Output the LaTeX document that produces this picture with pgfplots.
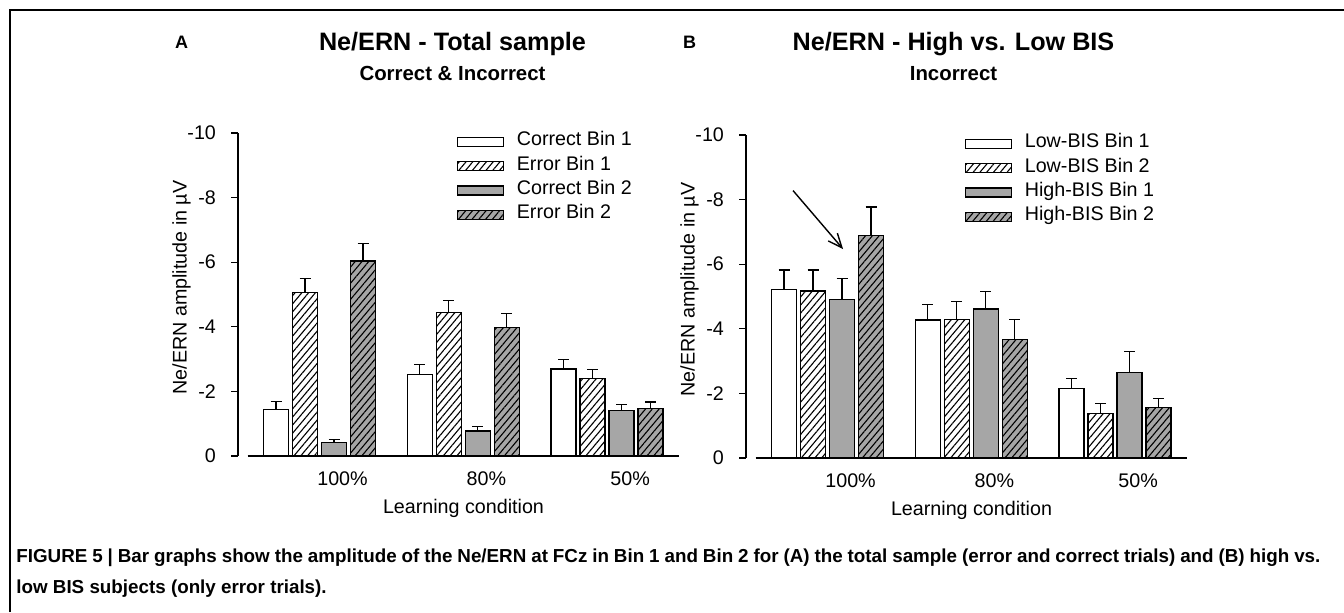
\documentclass[border=0pt]{standalone}
\usepackage{fontspec}
\setmainfont{Liberation Sans}
\usepackage{pgfplots}
\usepackage{pgfplotstable}
\pgfplotsset{compat=1.18}
\usetikzlibrary{patterns.meta,arrows.meta}

\definecolor{bargray}{gray}{0.65}
\newcommand{\lblfont}{\fontsize{9.85pt}{11pt}\selectfont}

% panel A: total sample (values in microvolt, error = upper SE)
\pgfplotstableread{
x  cb1   cb1e  eb1   eb1e  cb2   cb2e  eb2   eb2e
0  -1.45 0.23  -5.07 0.43  -0.41 0.10  -6.04 0.54
1  -2.52 0.31  -4.45 0.37  -0.77 0.14  -3.97 0.44
2  -2.69 0.29  -2.40 0.27  -1.41 0.18  -1.47 0.20
}\totaldata

% panel B: high vs low BIS, incorrect trials
\pgfplotstableread{
x  lb1   lb1e  lb2   lb2e  hb1   hb1e  hb2   hb2e
0  -5.21 0.61  -5.17 0.65  -4.90 0.66  -6.89 0.88
1  -4.27 0.48  -4.29 0.56  -4.61 0.54  -3.66 0.63
2  -2.15 0.31  -1.37 0.31  -2.64 0.66  -1.57 0.27
}\bisdata

\pgfplotsset{
  hatch/.style={postaction={pattern={Lines[angle=50,distance=2.6pt,line width=0.55pt]}}},
  errb/.style={error bars/.cd, y dir=minus, y explicit,
    error bar style={black, line width=0.6pt},
    error mark=-,
    error mark options={black, rotate=90, mark size=2.75pt, line width=0.6pt}},
  ernaxis/.style={
    scale only axis, width=220.5pt, height=161.5pt, anchor=center,
    ybar=2pt, bar width=12.5pt,
    xmin=-0.567, xmax=2.5, ymin=-10, ymax=0, y dir=reverse,
    axis y line*=left, axis x line*=bottom,
    x axis line style={draw=none},
    y axis line style={line width=0.65pt},
    xtick={0,1,2}, xticklabels={100\%,80\%,50\%},
    major x tick style={draw=none},
    xticklabel style={xshift=11.5pt, yshift=-1pt},
    ytick={-10,-8,-6,-4,-2,0}, yticklabels={-10,-8,-6,-4,-2,0},
    yticklabel style={xshift=-4pt},
    tick align=outside, major tick length=3.5pt,
    major y tick style={black, line width=0.65pt},
    tick label style={font=\lblfont},
    clip=false,
    legend style={draw=none, fill=none, inner sep=0pt, row sep=0pt,
      font=\lblfont, anchor=north west, at={(axis cs:0.95,-10.12)},
      nodes={inner sep=0pt, text height=8.1pt, text depth=4.1pt}},
    legend cell align=left,
    legend image code/.code={\draw[##1] (0pt,-2.25pt) rectangle (23pt,2.25pt);
      \node[draw=none, fill=none, inner sep=0pt, minimum size=0pt] at (29.5pt,0pt) {};},
  },
}

\begin{document}
\begin{tikzpicture}
\useasboundingbox (0pt,0pt) rectangle (672pt,-306pt);

\begin{axis}[ernaxis, at={(229.25pt,-147.25pt)}]
\addplot[draw=black, line width=0.65pt, fill=white, errb] table[x=x, y=cb1, y error=cb1e] {\totaldata};
\addplot[draw=black, line width=0.65pt, fill=white, hatch, errb] table[x=x, y=eb1, y error=eb1e] {\totaldata};
\addplot[draw=black, line width=0.65pt, fill=bargray, errb] table[x=x, y=cb2, y error=cb2e] {\totaldata};
\addplot[draw=black, line width=0.65pt, fill=bargray, hatch, errb] table[x=x, y=eb2, y error=eb2e] {\totaldata};
\legend{Correct Bin 1, Error Bin 1, Correct Bin 2, Error Bin 2}
\draw[line width=0.65pt] (axis cs:-0.5,0) -- (axis cs:2.5,0);
\end{axis}

\begin{axis}[ernaxis, at={(483.25pt,-148.25pt)}]
\addplot[draw=black, line width=0.65pt, fill=white, errb] table[x=x, y=lb1, y error=lb1e] {\bisdata};
\addplot[draw=black, line width=0.65pt, fill=white, hatch, errb] table[x=x, y=lb2, y error=lb2e] {\bisdata};
\addplot[draw=black, line width=0.65pt, fill=bargray, errb] table[x=x, y=hb1, y error=hb1e] {\bisdata};
\addplot[draw=black, line width=0.65pt, fill=bargray, hatch, errb] table[x=x, y=hb2, y error=hb2e] {\bisdata};
\legend{Low-BIS Bin 1, Low-BIS Bin 2, High-BIS Bin 1, High-BIS Bin 2}
\draw[line width=0.65pt] (axis cs:-0.5,0) -- (axis cs:2.5,0);
\draw[line width=0.7pt, -{Straight Barb[length=7pt,width=6pt]}] (axis cs:-0.24,-8.28) -- (axis cs:0.108,-6.47);
\end{axis}

\begin{scope}[x=0.5pt, y=-0.5pt]
\draw[line width=1pt] (10,612) -- (10,10) -- (1344,10);
% panel headings
\node[anchor=base, inner sep=0pt, font=\fontsize{9pt}{10pt}\selectfont\bfseries] at (181.5,48) {A};
\node[anchor=base, inner sep=0pt, font=\fontsize{12.6pt}{14pt}\selectfont\bfseries] at (452.5,50) {Ne/ERN - Total sample};
\node[anchor=base, inner sep=0pt, font=\fontsize{10.2pt}{12pt}\selectfont\bfseries] at (452.5,80) {Correct \& Incorrect};
\node[anchor=base, inner sep=0pt, font=\fontsize{9pt}{10pt}\selectfont\bfseries] at (689.5,48) {B};
\node[anchor=base, inner sep=0pt, font=\fontsize{12.6pt}{14pt}\selectfont\bfseries] at (953.5,50) {Ne/ERN - High vs. Low BIS};
\node[anchor=base, inner sep=0pt, font=\fontsize{10.2pt}{12pt}\selectfont\bfseries] at (953.5,80) {Incorrect};
% axis titles
\node[rotate=90, inner sep=0pt, font=\lblfont] at (181.5,287.5) {Ne/ERN amplitude in µV};
\node[rotate=90, inner sep=0pt, font=\lblfont] at (689.5,289.5) {Ne/ERN amplitude in µV};
\node[inner sep=0pt, font=\lblfont] at (463.5,508) {Learning condition};
\node[inner sep=0pt, font=\lblfont] at (971.5,510) {Learning condition};
% caption
\node[anchor=base west, inner sep=0pt, font=\fontsize{9.4pt}{12pt}\selectfont\bfseries] at (16,562)
  {\makebox[652pt][s]{FIGURE 5 | Bar graphs show the amplitude of the Ne/ERN at FCz in Bin 1 and Bin 2 for (A) the total sample (error and correct trials) and (B) high vs.}};
\node[anchor=base west, inner sep=0pt, font=\fontsize{9.4pt}{12pt}\selectfont\bfseries] at (16,593)
  {low BIS subjects (only error trials).};
\end{scope}
\end{tikzpicture}
\end{document}
